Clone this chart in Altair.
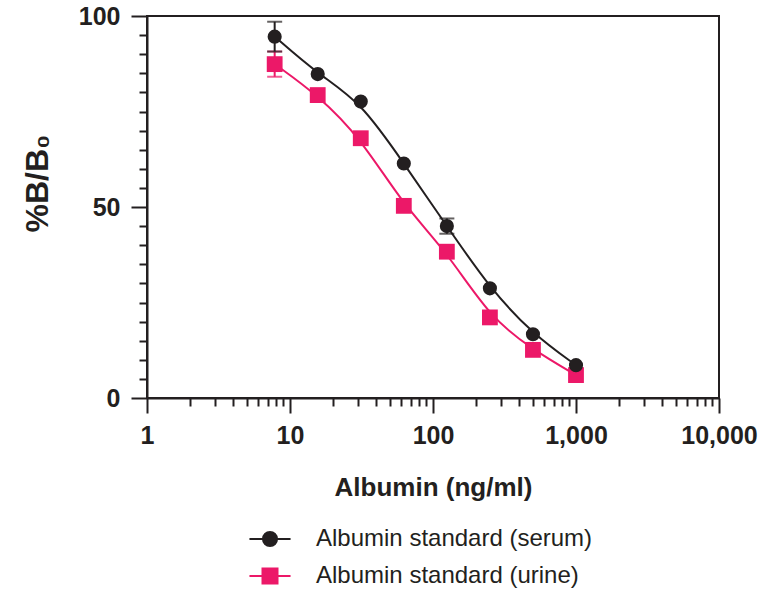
import altair as alt
import pandas as pd

# ---- data ----
conc = [7.8125, 15.625, 31.25, 62.5, 125, 250, 500, 1000]
serum = [94.6, 84.8, 77.6, 61.4, 45.0, 28.7, 16.7, 8.6]
urine = [87.4, 79.3, 68.0, 50.3, 38.3, 21.1, 12.6, 6.0]
serum_sd = [3.9, 0, 0, 0, 2.0, 0, 0, 0]
urine_sd = [3.3, 0, 0, 0, 0, 0, 0, 0]
series = ["Albumin standard (serum)", "Albumin standard (urine)"]
colors = ["#231f20", "#ec1868"]

x_major = [1, 10, 100, 1000, 10000]
x_ticks = [m * d for d in [1, 10, 100, 1000] for m in range(1, 10)] + [10000]
y_ticks = list(range(0, 101, 5))

legend_paths = [
    "M-1.37,0H1.37M-0.47,0A0.47,0.47 0 1,1 0.47,0A0.47,0.47 0 1,1 -0.47,0Z",
    "M-1.37,0H1.37M-0.5,-0.5H0.5V0.5H-0.5Z",
]

rows = []
for name, vals, sds in [(series[0], serum, serum_sd), (series[1], urine, urine_sd)]:
    for c, v, s in zip(conc, vals, sds):
        rows.append({"series": name, "conc": c, "value": v, "sd": s,
                     "lo": v - s, "hi": v + s})
df = pd.DataFrame(rows)

FONT = "Liberation Sans"
INK = "#231f20"

x_major_test = "indexof([" + ",".join(str(v) for v in x_major) + "], datum.value) >= 0"
y_major_test = "datum.value % 50 == 0"

x_axis = alt.Axis(
    values=x_ticks, tickCount=200,
    tickSize={"condition": {"test": x_major_test, "value": 15}, "value": 8},
    tickWidth=2, tickColor=INK, domainWidth=2, domainColor=INK,
    labelExpr=f"{x_major_test} ? format(datum.value, ',') : ''",
    labelFont=FONT, labelFontSize=25, labelFontWeight="bold", labelColor=INK,
    labelPadding=10, labelOverlap=False, labelFlush=False, labelBound=False,
    title="Albumin (ng/ml)", titleFont=FONT, titleFontSize=26,
    titleFontWeight="bold", titleColor=INK, titlePadding=26, grid=False,
)

y_axis = alt.Axis(
    values=y_ticks, tickCount=200,
    tickSize={"condition": {"test": y_major_test, "value": 16}, "value": 8},
    tickWidth=2, tickColor=INK, domainWidth=2, domainColor=INK,
    labelExpr=f"{y_major_test} ? format(datum.value, 'd') : ''",
    labelFont=FONT, labelFontSize=25, labelFontWeight="bold", labelColor=INK,
    labelPadding=11, labelOverlap=False, labelFlush=False, labelBound=False,
    title="%B/B₀", titleFont=FONT, titleFontSize=32, titleFontWeight="bold",
    titleColor=INK, titlePadding=24, titleY=167, grid=False,
)

xs = alt.Scale(type="log", domain=[1, 10000], nice=False)
ys = alt.Scale(domain=[0, 100], nice=False)


def X(field):
    return alt.X(f"{field}:Q", scale=xs, axis=x_axis)


def Y(field):
    return alt.Y(f"{field}:Q", scale=ys, axis=y_axis)


base = alt.Chart(df)


def series_layers(name, color, shape, size):
    d = base.transform_filter(alt.datum.series == name)
    line = d.mark_line(interpolate="basis", strokeWidth=2, color=color).encode(
        x=X("conc"), y=Y("value"))
    eb = d.transform_filter(alt.datum.sd > 0)
    rule = eb.mark_rule(strokeWidth=2, color=color).encode(
        x=X("conc"), y=Y("lo"), y2="hi:Q")
    cap_lo = eb.mark_tick(orient="horizontal", size=15, thickness=2, color=color).encode(
        x=X("conc"), y=Y("lo"))
    cap_hi = eb.mark_tick(orient="horizontal", size=15, thickness=2, color=color).encode(
        x=X("conc"), y=Y("hi"))
    pts = d.mark_point(filled=True, shape=shape, size=size, opacity=1, color=color).encode(
        x=X("conc"), y=Y("value"))
    return [line, rule, cap_lo, cap_hi, pts]


legend = alt.Legend(
    orient="none", legendX=107, legendY=507, direction="vertical", title=None,
    symbolSize=900, symbolStrokeWidth=2, symbolOpacity=1,
    labelFont=FONT, labelFontSize=24, labelColor=INK, labelOffset=30,
    rowPadding=9, padding=0, offset=0, labelLimit=400,
)

legend_layer = base.transform_filter("false").mark_point(
    filled=True, opacity=1).encode(
    color=alt.Color("series:N", scale=alt.Scale(domain=series, range=colors), legend=legend),
    stroke=alt.Stroke("series:N", scale=alt.Scale(domain=series, range=colors), legend=legend),
    shape=alt.Shape("series:N", scale=alt.Scale(domain=series, range=legend_paths), legend=legend),
)

layers = (series_layers(series[1], colors[1], "square", 250)
          + series_layers(series[0], colors[0], "circle", 200)
          + [legend_layer])

chart = alt.layer(*layers).properties(
    width=572, height=382,
    autosize=alt.AutoSizeParams(type="none"),
    padding={"left": 147, "top": 16, "right": 49, "bottom": 193},
).configure_view(stroke=INK, strokeWidth=2)

chart.save("out.html", embed_options={"renderer": "svg", "actions": False})
